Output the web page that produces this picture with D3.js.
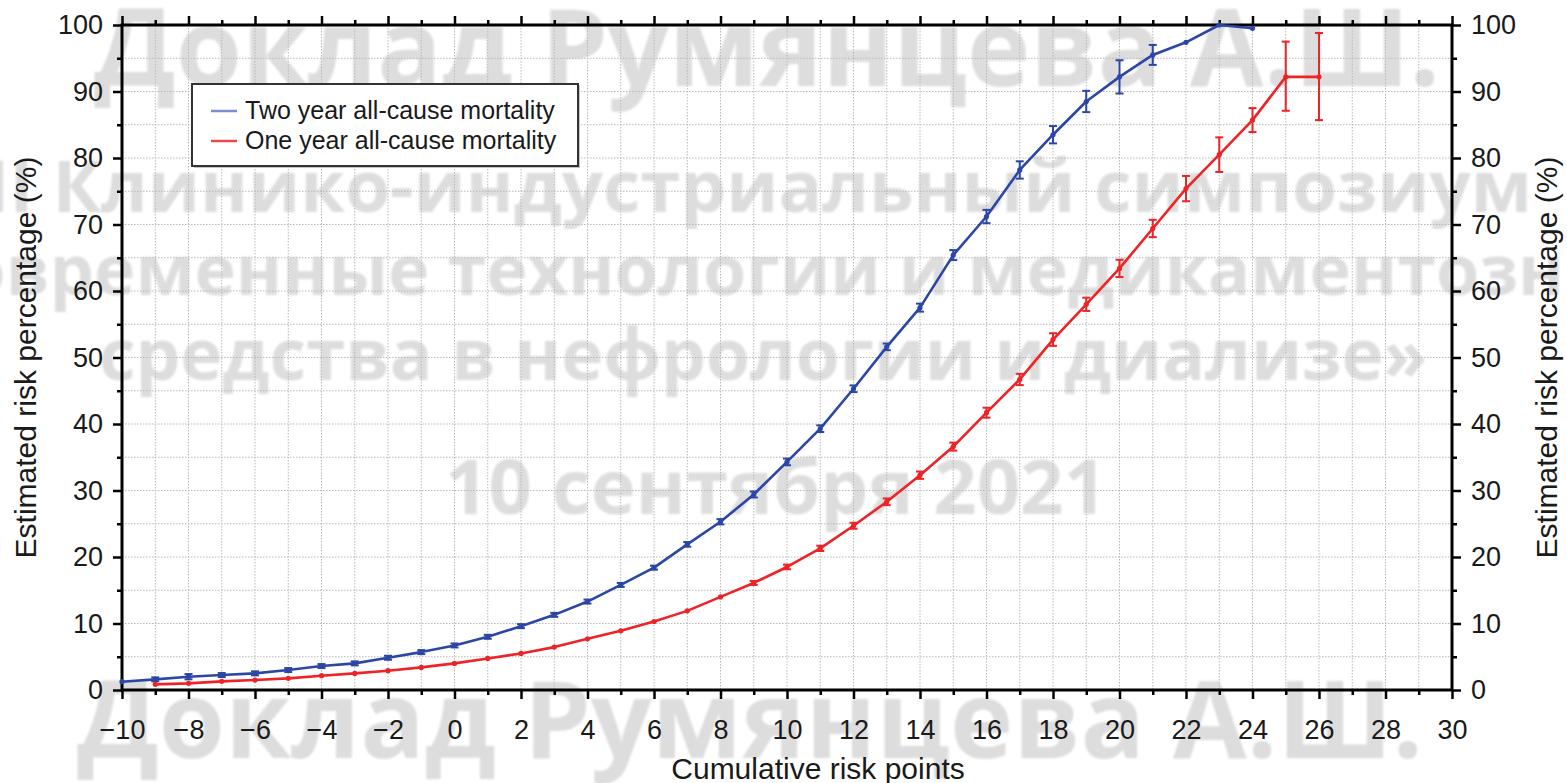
<!DOCTYPE html>
<html><head><meta charset="utf-8">
<script src="https://cdn.jsdelivr.net/npm/d3@7"></script>
<style>
html,body{margin:0;padding:0;background:#fff;}
svg{display:block;}
</style></head>
<body>
<svg id="chart" width="1567" height="783"></svg>
<script>
// ---------- data ----------
const xTwoYear = d3.range(-10, 25);           // -10 .. 24
const twoYear = [1.25,1.6,2.0,2.25,2.5,3.0,3.6,4.0,4.85,5.7,6.7,8.0,9.6,11.3,13.3,15.8,18.4,21.9,25.3,29.4,34.3,39.3,45.3,51.6,57.5,65.4,71.2,78.2,83.5,88.5,92.2,95.5,97.4,100,99.5];
const twoYearErrDown = [0,0.3,0.4,0.3,0.3,0.3,0.3,0.3,0.3,0.3,0.3,0.3,0.3,0.3,0.3,0.3,0.3,0.35,0.4,0.45,0.5,0.5,0.5,0.5,0.6,0.75,1.0,1.3,1.3,1.6,2.5,1.5,0,0,0];
const twoYearErrUp   = [0,0.3,0.4,0.3,0.3,0.3,0.3,0.3,0.3,0.3,0.3,0.3,0.3,0.3,0.3,0.3,0.3,0.35,0.4,0.45,0.5,0.5,0.5,0.5,0.6,0.75,1.0,1.3,1.3,1.6,2.5,1.5,0,0,0];

const xOneYear = d3.range(-9, 27);            // -9 .. 26
const oneYear = [0.85,1.0,1.3,1.5,1.75,2.15,2.5,2.9,3.4,4.0,4.75,5.5,6.45,7.7,8.9,10.3,11.9,14.0,16.1,18.5,21.3,24.7,28.3,32.3,36.6,41.7,46.7,52.7,58.0,63.4,69.4,75.4,80.5,85.7,92.2,92.2];
const oneYearErrDown = [0.2,0.2,0.2,0.2,0.2,0.2,0.2,0.2,0.2,0.2,0.2,0.2,0.2,0.2,0.2,0.2,0.2,0.2,0.3,0.35,0.4,0.45,0.5,0.55,0.6,0.75,0.85,0.95,1.0,1.3,1.3,1.9,2.6,1.8,5.1,6.5];
const oneYearErrUp   = [0.2,0.2,0.2,0.2,0.2,0.2,0.2,0.2,0.2,0.2,0.2,0.2,0.2,0.2,0.2,0.2,0.2,0.2,0.3,0.35,0.4,0.45,0.5,0.55,0.6,0.75,0.85,0.95,1.0,1.3,1.3,1.9,2.6,1.8,5.3,6.6];

const xTickLabels = d3.range(-10, 31, 2);
const yTickLabels = d3.range(0, 101, 10);
const seriesNames = ["Two year all-cause mortality", "One year all-cause mortality"];
const xTitle = "Cumulative risk points";
const yTitle = "Estimated risk percentage (%)";
const watermark = [
  "Доклад Румянцева А.Ш.",
  "II Клинико-индустриальный симпозиум",
  "«Современные технологии и медикаментозные",
  "средства в нефрологии и диализе»",
  "10 сентября 2021",
  "Доклад Румянцева А.Ш."
];

// ---------- layout ----------
const svg = d3.select("#chart");
const L = 122, R = 1452, T = 25, B = 690;
const x = d3.scaleLinear().domain([-10, 30]).range([L, R]);
const y = d3.scaleLinear().domain([0, 100]).range([B, T]);
const BLUE = "#2c46a6", RED = "#ee2326";
const FONT = "'Liberation Sans', Arial, Helvetica, sans-serif";

// watermark (drawn underneath)
const defs = svg.append("defs");
defs.append("filter").attr("id","soft").append("feGaussianBlur").attr("stdDeviation",1.2);
const wm = svg.append("g").attr("filter","url(#soft)")
  .attr("font-family","'Open Sans', 'Noto Sans', sans-serif").attr("font-weight",700)
  .attr("fill","#dddddd");
// [x, baseline, size, anchor]
const wmPos = [[767,86,107,"middle"],[1532,212,72.5,"end"],[770,295,70,"middle"],[763,380,71,"middle"],[776,514,76,"middle"],[750,758,107,"middle"]];
wm.selectAll("text").data(watermark).join("text")
  .attr("x",(d,i)=>wmPos[i][0]).attr("y",(d,i)=>wmPos[i][1])
  .attr("font-size",(d,i)=>wmPos[i][2]).attr("text-anchor",(d,i)=>wmPos[i][3]).text(d=>d);

// grid
const grid = svg.append("g").attr("stroke","#b8b8b8").attr("stroke-width",1).attr("stroke-dasharray","1.5,1.5");
grid.selectAll("line.v").data(d3.range(-9, 30)).join("line").attr("class","v")
  .attr("x1",d=>x(d)).attr("x2",d=>x(d)).attr("y1",T).attr("y2",B);
grid.selectAll("line.h").data(d3.range(5, 100, 5)).join("line").attr("class","h")
  .attr("y1",d=>y(d)).attr("y2",d=>y(d)).attr("x1",L).attr("x2",R);

// axes
const xMinor = d3.range(-10, 31, 1);
const yMinor = d3.range(0, 101, 5);
function styleAxis(g){
  g.select(".domain").remove();
  g.selectAll(".tick line").attr("stroke","#000").attr("stroke-width",2.5);
  g.selectAll(".tick text").attr("font-family",FONT).attr("font-size",27).attr("fill","#1a1a1a");
}
const axBottom = svg.append("g").attr("transform",`translate(0,${B})`)
  .call(d3.axisBottom(x).tickValues(xMinor).tickSize(9).tickPadding(21)
    .tickFormat(d => xTickLabels.includes(d) ? String(d).replace("-", "\u2212") : ""));
styleAxis(axBottom);
axBottom.selectAll(".tick line").attr("y2", d => d % 2 === 0 ? 9 : 5);

const axTop = svg.append("g").attr("transform",`translate(0,${T})`)
  .call(d3.axisTop(x).tickValues(xMinor).tickSize(9).tickFormat(""));
styleAxis(axTop);
axTop.selectAll(".tick line").attr("y2", d => d % 2 === 0 ? -9 : -5);

const axLeft = svg.append("g").attr("transform",`translate(${L},0)`)
  .call(d3.axisLeft(y).tickValues(yMinor).tickSize(9).tickPadding(10)
    .tickFormat(d => yTickLabels.includes(d) ? d : ""));
styleAxis(axLeft);
axLeft.selectAll(".tick line").attr("x2", d => d % 10 === 0 ? -9 : -5);

const axRight = svg.append("g").attr("transform",`translate(${R},0)`)
  .call(d3.axisRight(y).tickValues(yMinor).tickSize(9).tickPadding(10)
    .tickFormat(d => yTickLabels.includes(d) ? d : ""));
styleAxis(axRight);
axRight.selectAll(".tick line").attr("x2", d => d % 10 === 0 ? 9 : 5);

// frame
svg.append("rect").attr("x",L).attr("y",T).attr("width",R-L).attr("height",B-T)
  .attr("fill","none").attr("stroke","#000").attr("stroke-width",3);

// axis titles
svg.append("text").attr("transform",`translate(36,${(T+B)/2}) rotate(-90)`)
  .attr("text-anchor","middle").attr("font-family",FONT).attr("font-size",30).attr("fill","#1a1a1a").text(yTitle);
svg.append("text").attr("transform",`translate(1557,${(T+B)/2}) rotate(-90)`)
  .attr("text-anchor","middle").attr("font-family",FONT).attr("font-size",30).attr("fill","#1a1a1a").text(yTitle);
svg.append("text").attr("x",818).attr("y",779)
  .attr("text-anchor","middle").attr("font-family",FONT).attr("font-size",30).attr("fill","#1a1a1a").text(xTitle);

// series
function drawSeries(xs, ys, dn, up, color){
  const data = xs.map((v,i)=>({x:v, y:ys[i], lo:ys[i]-dn[i], hi:Math.min(ys[i]+up[i], 100)}));
  const g = svg.append("g");
  g.append("path").datum(data)
    .attr("d", d3.line().x(d=>x(d.x)).y(d=>y(d.y)))
    .attr("fill","none").attr("stroke",color).attr("stroke-width",2.6).attr("stroke-linejoin","round");
  const eb = g.selectAll("g.eb").data(data.filter(d=>d.hi-d.lo>0.5)).join("g").attr("class","eb")
    .attr("stroke",color).attr("stroke-width",2);
  eb.append("line").attr("x1",d=>x(d.x)).attr("x2",d=>x(d.x)).attr("y1",d=>y(d.lo)).attr("y2",d=>y(d.hi));
  eb.append("line").attr("x1",d=>x(d.x)-4).attr("x2",d=>x(d.x)+4).attr("y1",d=>y(d.lo)).attr("y2",d=>y(d.lo));
  eb.append("line").attr("x1",d=>x(d.x)-4).attr("x2",d=>x(d.x)+4).attr("y1",d=>y(d.hi)).attr("y2",d=>y(d.hi));
  g.selectAll("circle").data(data).join("circle")
    .attr("cx",d=>x(d.x)).attr("cy",d=>y(d.y)).attr("r",2.6).attr("fill",color);
}
drawSeries(xTwoYear, twoYear, twoYearErrDown, twoYearErrUp, BLUE);
drawSeries(xOneYear, oneYear, oneYearErrDown, oneYearErrUp, RED);

// legend
const lg = svg.append("g");
lg.append("rect").attr("x",194).attr("y",86).attr("width",386).attr("height",82).attr("fill","#c4c4c4");
lg.append("rect").attr("x",192).attr("y",84).attr("width",386).attr("height",82)
  .attr("fill","#fff").attr("stroke","#333").attr("stroke-width",2);
const legColors = ["#7b8fd0", "#f04848"];
const legY = [111, 141];
seriesNames.forEach((n,i)=>{
  lg.append("line").attr("x1",211).attr("x2",237).attr("y1",legY[i]).attr("y2",legY[i])
    .attr("stroke",legColors[i]).attr("stroke-width",2.5);
  lg.append("text").attr("x",245).attr("y",legY[i]+8).attr("font-family",FONT)
    .attr("font-size",25).attr("fill","#1a1a1a").text(n);
});
</script>
</body></html>
